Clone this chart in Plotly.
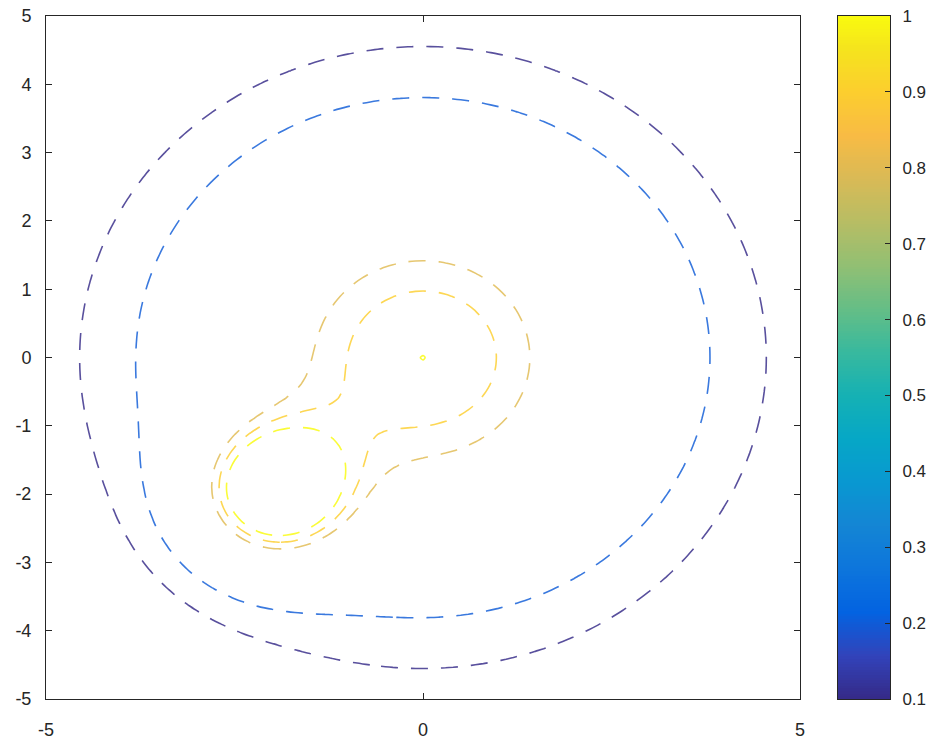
import numpy as np
import plotly.graph_objects as go

# ---- data: surface parameters (sum of two Gaussian bumps) ----
bump_cx = [0.0, -2.0]          # bump centres, x
bump_cy = [0.0, -2.0]          # bump centres, y
bump_amp = [1.0, 1.0]          # bump amplitudes
bump_w2 = [9.0, 1.0]           # bump squared widths
levels = [0.1, 0.2, 0.8, 0.9, 1.0]   # contour levels drawn
grid_x = np.linspace(-5, 5, 101)
grid_y = np.linspace(-5, 5, 101)
axis_ticks = [-5, -4, -3, -2, -1, 0, 1, 2, 3, 4, 5]
x_ticks = [-5, 0, 5]
cbar_ticks = [0.1, 0.2, 0.3, 0.4, 0.5, 0.6, 0.7, 0.8, 0.9, 1.0]

# parula colormap
parula = [
    [0.000, "#352A87"], [0.063, "#3243BA"], [0.127, "#0363E1"], [0.190, "#0D75DC"],
    [0.254, "#1485D4"], [0.317, "#0998D1"], [0.381, "#06A7C6"], [0.444, "#15B1B4"],
    [0.508, "#38B99E"], [0.571, "#65BE86"], [0.635, "#92BF73"], [0.698, "#B7BD64"],
    [0.762, "#D9BA56"], [0.825, "#F8BB44"], [0.889, "#FCCE2E"], [0.952, "#F5E41D"],
    [1.000, "#F9FB0E"],
]
cmin, cmax = min(cbar_ticks), max(cbar_ticks)


def scale_color(v, soften=0.18):
    t = min(max((v - cmin) / (cmax - cmin), 0.0), 1.0)
    for (t0, c0), (t1, c1) in zip(parula[:-1], parula[1:]):
        if t <= t1:
            f = 0.0 if t1 == t0 else (t - t0) / (t1 - t0)
            a = [int(c0[i:i + 2], 16) for i in (1, 3, 5)]
            b = [int(c1[i:i + 2], 16) for i in (1, 3, 5)]
            rgb = [a[k] + f * (b[k] - a[k]) for k in range(3)]
            rgb = [round(c + soften * (255 - c)) for c in rgb]
            return "rgb({},{},{})".format(*rgb)
    return parula[-1][1]


X, Y = np.meshgrid(grid_x, grid_y)
Z = np.zeros_like(X)
for cx, cy, a, w2 in zip(bump_cx, bump_cy, bump_amp, bump_w2):
    Z += a * np.exp(-((X - cx) ** 2 + (Y - cy) ** 2) / w2)

axis_col = "#262626"
font_fam = "Liberation Sans, Arial, sans-serif"

fig = go.Figure()
for L in levels:
    fig.add_trace(go.Contour(
        x=grid_x, y=grid_y, z=Z,
        autocontour=False,
        contours=dict(start=L, end=L, size=1, coloring="none"),
        showscale=False,
        line=dict(width=1.6, dash="17px,13px", smoothing=1, color=scale_color(L)),
        hoverinfo="skip",
    ))

# colour bar drawn as a heatmap on its own axes
cb_edges = np.linspace(cmin, cmax, 257)
cb_mid = (cb_edges[:-1] + cb_edges[1:]) / 2
fig.add_trace(go.Heatmap(
    x=[0, 1], y=cb_edges, z=[[v] for v in cb_mid],
    colorscale=parula, zmin=cmin, zmax=cmax, showscale=False,
    xaxis="x2", yaxis="y2", hoverinfo="skip",
))

ML, MT, MB = 46, 16, 42
W_plot = 939 - ML
fig.update_layout(
    width=939, height=741,
    margin=dict(l=ML, r=0, t=MT, b=MB),
    paper_bgcolor="white", plot_bgcolor="white",
    font=dict(family=font_fam, size=18, color=axis_col),
    showlegend=False,
    xaxis=dict(domain=[0, 754 / W_plot], range=[-5, 5], tickvals=x_ticks,
               ticktext=[str(v) for v in x_ticks],
               ticks="inside", ticklen=6, tickcolor=axis_col, showline=True,
               linecolor=axis_col, linewidth=1, mirror="ticks", showgrid=False,
               zeroline=False, ticklabelstandoff=14, automargin=False,
               ticklabeloverflow="allow"),
    yaxis=dict(domain=[0, 1], range=[-5, 5], tickvals=axis_ticks,
               ticktext=[str(v) for v in axis_ticks],
               ticks="inside", ticklen=6, tickcolor=axis_col, showline=True,
               linecolor=axis_col, linewidth=1, mirror="ticks", showgrid=False,
               zeroline=False, ticklabelstandoff=10, automargin=False,
               ticklabeloverflow="allow"),
    xaxis2=dict(domain=[792 / W_plot, 844 / W_plot], range=[0, 1], anchor="y2",
                showticklabels=False, ticks="", showline=True, mirror=True,
                linecolor=axis_col, linewidth=1, showgrid=False, zeroline=False,
                automargin=False),
    yaxis2=dict(domain=[0, 1], range=[cmin, cmax], anchor="x2", side="right",
                tickvals=cbar_ticks, ticktext=[f"{v:g}" for v in cbar_ticks],
                ticks="inside", ticklen=5, tickcolor=axis_col, showline=True,
                mirror=True, linecolor=axis_col, linewidth=1, showgrid=False,
                zeroline=False, tickfont=dict(size=17), ticklabelstandoff=8,
                automargin=False, ticklabeloverflow="allow"),
)

# remove the page's default body margin so the figure sits at the window corner
fig.write_html("out.html", config={"displayModeBar": False},
               post_script="document.body.style.margin='0';")
